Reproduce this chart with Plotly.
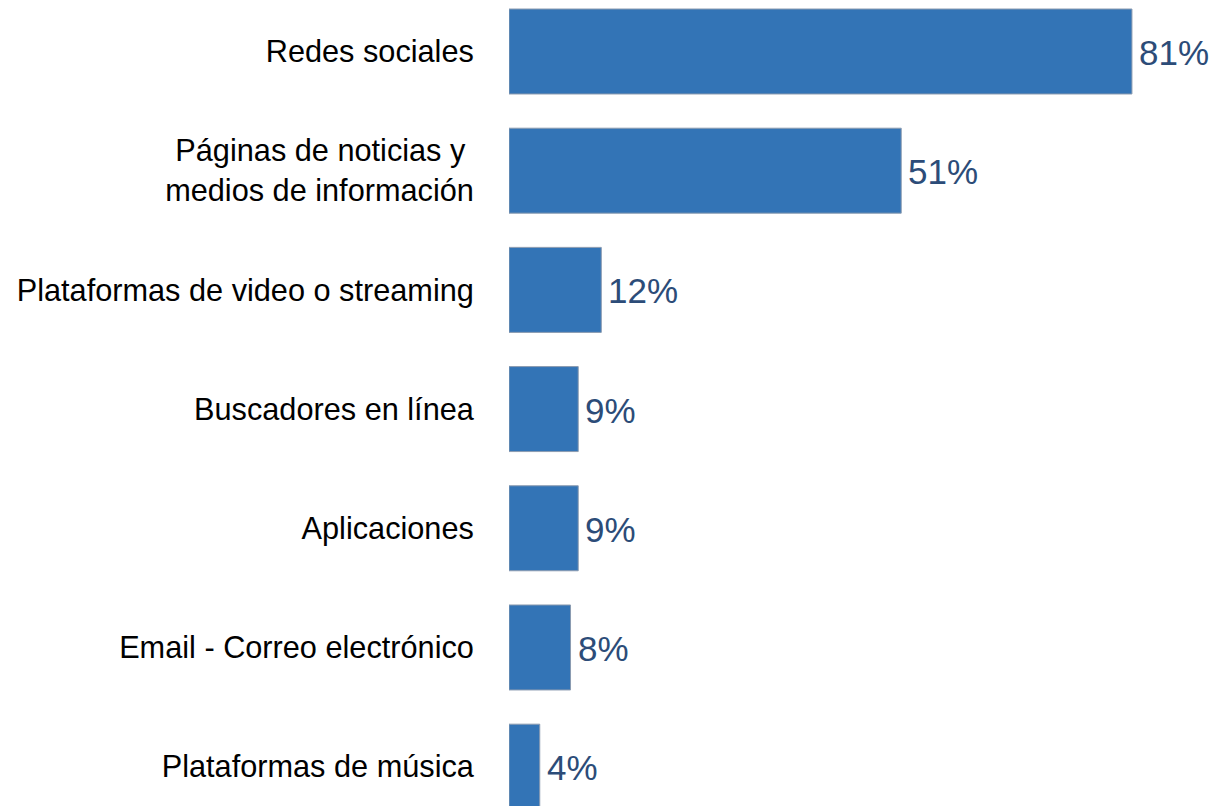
import plotly.graph_objects as go

# Share of respondents by source (percent)
categories = [
    "Redes sociales",
    "Páginas de noticias y\u00a0<br>medios de información",
    "Plataformas de video o streaming",
    "Buscadores en línea",
    "Aplicaciones",
    "Email - Correo electrónico",
    "Plataformas de música",
]
values = [81, 51, 12, 9, 9, 8, 4]
value_labels = [f"{v}%" for v in values]

BAR_COLOR = "#3374b6"
VALUE_COLOR = "#2c4c78"
FONT = "Helvetica, Arial, 'Liberation Sans', sans-serif"

fig = go.Figure()
fig.add_trace(
    go.Bar(
        x=values,
        y=categories,
        orientation="h",
        marker=dict(color=BAR_COLOR, line=dict(color="#8b9bb0", width=1)),
        hoverinfo="skip",
    )
)

# Percentage labels just past the end of each bar
for cat, v, lab in zip(categories, values, value_labels):
    fig.add_annotation(
        x=v, y=cat, text=lab, xanchor="left", yanchor="middle",
        xshift=5, yshift=-1, showarrow=False,
        font=dict(family=FONT, size=35, color=VALUE_COLOR),
    )

fig.update_layout(
    width=1220, height=806,
    margin=dict(l=509, r=0, t=0, b=0),
    paper_bgcolor="white", plot_bgcolor="white",
    bargap=0.287,
    showlegend=False,
    font=dict(family=FONT, color="black"),
    xaxis=dict(range=[0, 92.45], visible=False, showgrid=False, zeroline=False),
    yaxis=dict(
        categoryorder="array", categoryarray=categories,
        range=[6.33, -0.432],
        showgrid=False, zeroline=False, showline=False,
        ticks="outside", ticklen=28, tickcolor="rgba(0,0,0,0)",
        tickfont=dict(family=FONT, size=30.7, color="black"),
    ),
)

fig.write_html("out.html")
